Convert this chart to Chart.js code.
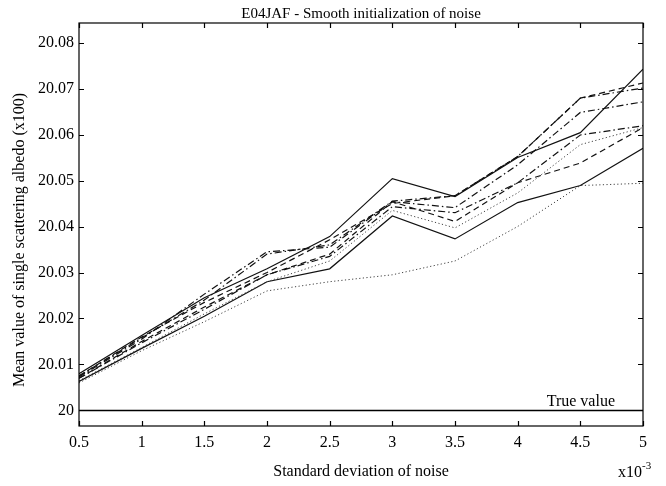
<!DOCTYPE html>
<html>
<head>
<meta charset="utf-8">
<script src="https://cdn.jsdelivr.net/npm/chart.js@4"></script>
<style>
  html, body { margin: 0; padding: 0; background: #fff; }
  canvas { display: block; }
</style>
</head>
<body>
<canvas id="chart" width="666" height="486"></canvas>
<script>
// noise std (x1e-3) and the mean albedo (x100) for each run
var noiseStd = [0.5, 1, 1.5, 2, 2.5, 3, 3.5, 4, 4.5, 5];
var runA = [20.0080, 20.0163, 20.0245, 20.0308, 20.0378, 20.0504, 20.0465, 20.0550, 20.0604, 20.0742];
var runB = [20.0075, 20.0160, 20.0235, 20.0300, 20.0371, 20.0450, 20.0467, 20.0552, 20.0679, 20.0712];
var runC = [20.0075, 20.0158, 20.0240, 20.0340, 20.0360, 20.0455, 20.0467, 20.0552, 20.0679, 20.0701];
var runD = [20.0073, 20.0155, 20.0253, 20.0345, 20.0355, 20.0454, 20.0441, 20.0534, 20.0648, 20.0671];
var runE = [20.0070, 20.0147, 20.0220, 20.0295, 20.0335, 20.0443, 20.0430, 20.0495, 20.0599, 20.0619];
var runF = [20.0065, 20.0137, 20.0210, 20.0280, 20.0325, 20.0435, 20.0397, 20.0473, 20.0578, 20.0615];
var runG = [20.0070, 20.0150, 20.0225, 20.0295, 20.0340, 20.0454, 20.0411, 20.0495, 20.0538, 20.0615];
var runH = [20.0063, 20.0135, 20.0205, 20.0280, 20.0308, 20.0423, 20.0373, 20.0452, 20.0489, 20.0570];
var runI = [20.0060, 20.0130, 20.0193, 20.0260, 20.0280, 20.0295, 20.0325, 20.0400, 20.0489, 20.0494];
var trueValue = 20;

var xTicks = [0.5, 1, 1.5, 2, 2.5, 3, 3.5, 4, 4.5, 5];
var xTickLabels = ['0.5', '1', '1.5', '2', '2.5', '3', '3.5', '4', '4.5', '5'];
var yTicks = [20, 20.01, 20.02, 20.03, 20.04, 20.05, 20.06, 20.07, 20.08];
var yTickLabels = ['20', '20.01', '20.02', '20.03', '20.04', '20.05', '20.06', '20.07', '20.08'];

var FONT = '"Liberation Serif", "DejaVu Serif", serif';
var SOLID = [], DASH = [6, 4], DASHDOT = [7, 3, 1.5, 3], DOT = [1.2, 2.4];

function series(values, dash, color, width) {
  return {
    data: values.map(function(v, i) { return { x: noiseStd[i], y: v }; }),
    borderColor: color || '#111',
    borderWidth: width || 1.2,
    borderDash: dash,
    pointRadius: 0,
    tension: 0,
    fill: false
  };
}

// box, inward ticks on all four sides, and the loose texts
var framePlugin = {
  id: 'frame',
  beforeDraw: function(chart) {
    var c = chart.ctx;
    c.save();
    c.fillStyle = '#fff';
    c.fillRect(0, 0, chart.width, chart.height);
    c.restore();
  },
  afterDraw: function(chart) {
    var c = chart.ctx, a = chart.chartArea;
    var xs = chart.scales.x, ys = chart.scales.y;
    c.save();
    c.strokeStyle = '#000';
    c.lineWidth = 1.2;
    c.strokeRect(a.left, a.top, a.right - a.left, a.bottom - a.top);
    c.beginPath();
    xTicks.forEach(function(v) {
      var px = Math.round(xs.getPixelForValue(v)) + 0.5;
      c.moveTo(px, a.bottom); c.lineTo(px, a.bottom - 5);
      c.moveTo(px, a.top); c.lineTo(px, a.top + 5);
    });
    yTicks.forEach(function(v) {
      var py = Math.round(ys.getPixelForValue(v)) + 0.5;
      c.moveTo(a.left, py); c.lineTo(a.left + 5, py);
      c.moveTo(a.right, py); c.lineTo(a.right - 5, py);
    });
    c.stroke();

    c.fillStyle = '#000';
    c.font = '15px ' + FONT;
    c.textAlign = 'center';
    c.textBaseline = 'alphabetic';
    c.fillText('E04JAF - Smooth initialization of noise', (a.left + a.right) / 2, 18);
    c.font = '16px ' + FONT;
    c.fillText('Standard deviation of noise', (a.left + a.right) / 2, 476);

    c.textAlign = 'right';
    c.fillText('True value', 615, 406);

    c.textAlign = 'left';
    c.fillText('x10', 618, 477);
    c.font = '11px ' + FONT;
    c.fillText('-3', 642, 469);

    c.font = '16px ' + FONT;
    c.translate(24, 240);
    c.rotate(-Math.PI / 2);
    c.textAlign = 'center';
    c.fillText('Mean value of single scattering albedo (x100)', 0, 0);
    c.restore();
  }
};

new Chart(document.getElementById('chart'), {
  type: 'line',
  data: {
    datasets: [
      series(runA, SOLID),
      series(runB, DASH),
      series(runC, DASHDOT),
      series(runD, DASHDOT),
      series(runE, DASHDOT),
      series(runF, DOT, '#444', 1),
      series(runG, DASH),
      series(runH, SOLID),
      series(runI, DOT, '#444', 1),
      series(noiseStd.map(function() { return trueValue; }), SOLID, '#000', 1.4)
    ]
  },
  options: {
    responsive: false,
    animation: false,
    devicePixelRatio: 1,
    layout: { padding: { left: 0, top: 23, right: 23, bottom: 0 } },
    plugins: { legend: { display: false }, tooltip: { enabled: false }, title: { display: false } },
    scales: {
      x: {
        type: 'linear',
        min: 0.5,
        max: 5,
        afterBuildTicks: function(s) { s.ticks = xTicks.map(function(v) { return { value: v }; }); },
        afterFit: function(s) { s.height = 60; },
        grid: { display: false, drawTicks: false },
        border: { display: false },
        ticks: {
          padding: 7,
          maxRotation: 0,
          autoSkip: false,
          color: '#000',
          font: { family: FONT, size: 16 },
          callback: function(v) { var i = xTicks.indexOf(v); return i >= 0 ? xTickLabels[i] : ''; }
        }
      },
      y: {
        type: 'linear',
        min: 19.99663,
        max: 20.08424,
        afterBuildTicks: function(s) { s.ticks = yTicks.map(function(v) { return { value: v }; }); },
        afterFit: function(s) { s.width = 79; },
        grid: { display: false, drawTicks: false },
        border: { display: false },
        ticks: {
          padding: 5,
          autoSkip: false,
          color: '#000',
          font: { family: FONT, size: 16 },
          callback: function(v) {
            for (var i = 0; i < yTicks.length; i++) {
              if (Math.abs(yTicks[i] - v) < 1e-6) return yTickLabels[i];
            }
            return '';
          }
        }
      }
    }
  },
  plugins: [framePlugin]
});
</script>
</body>
</html>
